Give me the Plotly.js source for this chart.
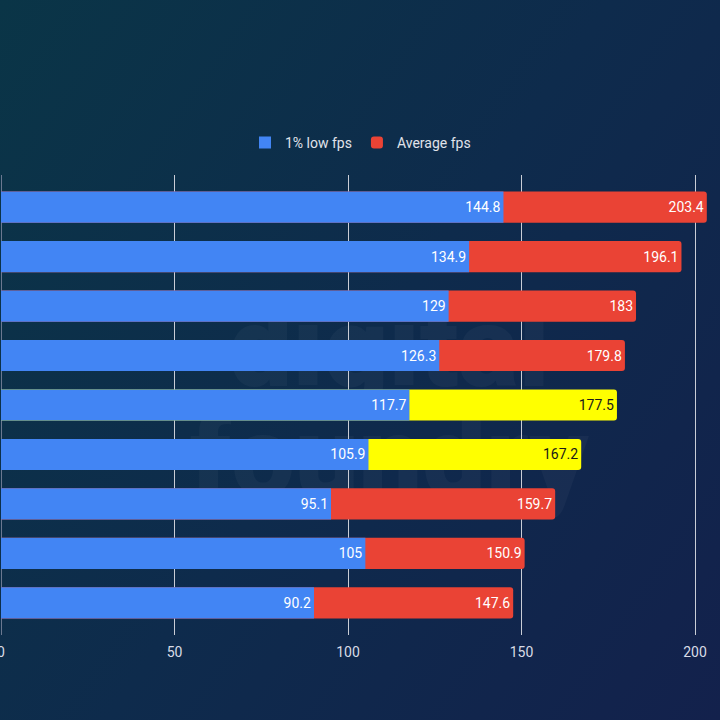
<!DOCTYPE html>
<html>
<head>
<meta charset="utf-8">
<script src="https://cdn.plot.ly/plotly-3.0.1.min.js"></script>
<style>
  html, body { margin: 0; padding: 0; }
  body {
    width: 720px; height: 720px; overflow: hidden; position: relative;
    background: linear-gradient(125deg, #0a3547 0%, #0e2b4c 50%, #13214c 100%);
  }
  /* the plot is widened to the left so the "0" tick label is drawn and cropped at the page edge */
  #chart { position: absolute; left: -20px; top: 0; width: 740px; height: 720px; }
</style>
</head>
<body>
<div id="chart"></div>
<script>
// Benchmark rows, top to bottom
const rows = ['r1', 'r2', 'r3', 'r4', 'r5', 'r6', 'r7', 'r8', 'r9'];
const lowFps = [144.8, 134.9, 129, 126.3, 117.7, 105.9, 95.1, 105, 90.2];
const avgFps = [203.4, 196.1, 183, 179.8, 177.5, 167.2, 159.7, 150.9, 147.6];
// Highlighted rows get a yellow average bar
const highlight = [false, false, false, false, true, true, false, false, false];
const xTicks = [0, 50, 100, 150, 200];

const BLUE = '#4285f4', RED = '#ea4335', YELLOW = '#ffff00';

const avgColors = highlight.map(h => h ? YELLOW : RED);
const avgTextColors = highlight.map(h => h ? '#1a1a1a' : '#ffffff');

const labelFont = { family: 'Roboto, sans-serif', size: 14 };

const traces = [
  {
    type: 'bar', orientation: 'h', name: 'Average fps',
    y: rows, x: avgFps,
    text: avgFps.map(String), textposition: 'inside', insidetextanchor: 'end',
    textfont: Object.assign({}, labelFont, { color: avgTextColors }),
    marker: { color: avgColors, cornerradius: 3, line: { width: 0 } },
    hoverinfo: 'x', showlegend: true, legendrank: 2
  },
  {
    type: 'bar', orientation: 'h', name: '1% low fps',
    y: rows, x: lowFps,
    text: lowFps.map(String), textposition: 'inside', insidetextanchor: 'end',
    textfont: Object.assign({}, labelFont, { color: '#ffffff' }),
    marker: { color: BLUE, line: { width: 0 } },
    hoverinfo: 'x', showlegend: true, legendrank: 1
  }
];

// Faint "digital foundry" logo mark behind the bars
const logoSvg =
  '<svg xmlns="http://www.w3.org/2000/svg" width="440" height="240" viewBox="0 0 440 240">' +
  '<g font-family="Roboto, sans-serif" font-weight="900" font-size="118" fill="#ffffff">' +
  '<text x="220" y="100" text-anchor="middle">digital</text>' +
  '<text x="220" y="215" text-anchor="middle">foundry</text></g></svg>';

const layout = {
  width: 740, height: 720,
  paper_bgcolor: 'rgba(0,0,0,0)', plot_bgcolor: 'rgba(0,0,0,0)',
  margin: { l: 21, r: 0, t: 175, b: 85 },
  barmode: 'overlay', bargap: 0.37,
  font: { family: 'Roboto, sans-serif', color: '#d8dce6' },
  xaxis: {
    range: [0, 207.2], tickvals: xTicks, ticktext: xTicks.map(String),
    showgrid: true, gridcolor: '#c9cdd6', gridwidth: 1,
    zeroline: true, zerolinecolor: '#6b7890', zerolinewidth: 1,
    showline: false, ticks: '', ticklabelstandoff: 7, fixedrange: true,
    tickfont: { family: 'Roboto, sans-serif', size: 14, color: '#d8dce6' }
  },
  yaxis: {
    categoryorder: 'array', categoryarray: rows,
    autorange: false, range: [8.65, -0.65],
    showticklabels: false, showgrid: false, zeroline: false, ticks: '', fixedrange: true
  },
  legend: {
    orientation: 'h', x: 0.5, xanchor: 'center', y: 1.07, yanchor: 'middle',
    traceorder: 'normal', font: { family: 'Roboto, sans-serif', size: 14, color: '#e0e3ea' },
    itemwidth: 30, bgcolor: 'rgba(0,0,0,0)'
  },
  images: [{
    source: 'data:image/svg+xml;charset=utf-8,' + encodeURIComponent(logoSvg),
    xref: 'paper', yref: 'paper', x: 0.54, y: 0.5, sizex: 0.62, sizey: 0.5,
    xanchor: 'center', yanchor: 'middle', sizing: 'contain', opacity: 0.03, layer: 'below'
  }]
};

Plotly.newPlot('chart', traces, layout, { displayModeBar: false, staticPlot: true });
</script>
</body>
</html>
